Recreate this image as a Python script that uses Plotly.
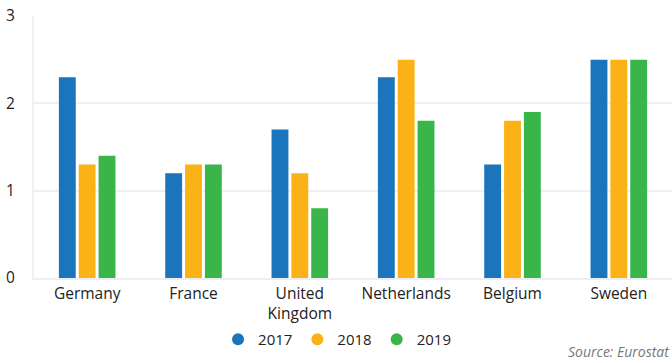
import plotly.graph_objects as go

countries = ["Germany", "France", "United<br>Kingdom", "Netherlands", "Belgium", "Sweden"]
years = ["2017", "2018", "2019"]
v2017 = [2.3, 1.2, 1.7, 2.3, 1.3, 2.5]
v2018 = [1.3, 1.3, 1.2, 2.5, 1.8, 2.5]
v2019 = [1.4, 1.3, 0.8, 1.8, 1.9, 2.5]
colors = ["#1b75bc", "#fbb217", "#39b54a"]
y_ticks = [0, 1, 2, 3]

FONT = "Open Sans"
fig = go.Figure()
for name, vals, col in zip(years, [v2017, v2018, v2019], colors):
    fig.add_trace(go.Bar(x=countries, y=vals, name=name, marker=dict(color=col, line=dict(width=0)),
                         showlegend=False))
for name, col in zip(years, colors):
    fig.add_trace(go.Scatter(x=[None], y=[None], mode="markers", name=name,
                             marker=dict(color=col, size=12, symbol="circle")))

fig.update_layout(
    width=672, height=363,
    margin=dict(l=34, r=0, t=16, b=85),
    paper_bgcolor="white", plot_bgcolor="white",
    barmode="group", bargap=0.44, bargroupgap=0.15,
    font=dict(family=FONT, size=15, color="#222"),
    legend=dict(orientation="h", x=0.475, xanchor="center", y=-0.235, yanchor="middle",
                font=dict(size=15, family=FONT, color="#222"), itemwidth=30,
                traceorder="normal"),
    annotations=[dict(text="<i>Source: Eurostat</i>", x=1, xref="paper", xanchor="right",
                      y=-0.282, yref="paper", yanchor="middle", showarrow=False,
                      font=dict(size=14, color="#777", family=FONT))],
)
fig.update_xaxes(showgrid=False, showline=True, linecolor="#eceef3", linewidth=2,
                 tickfont=dict(size=15.5, family=FONT, color="#222"), ticklabelstandoff=0)
fig.update_yaxes(range=[0, 3], tickvals=y_ticks, showgrid=True, gridcolor="#eef0f4", gridwidth=2,
                 zeroline=False, showline=True, linecolor="#f0f1f5", linewidth=2,
                 tickfont=dict(size=15.5, family=FONT, color="#222"), ticklabelstandoff=14)

fig.write_html("out.html")
